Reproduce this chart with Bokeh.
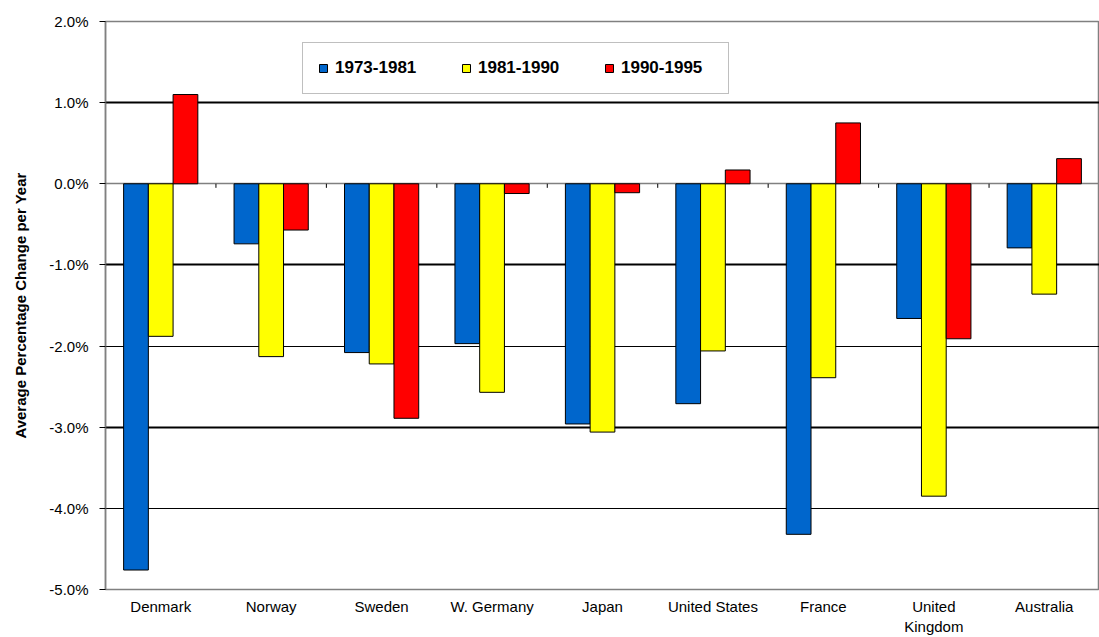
from bokeh.plotting import figure
from bokeh.models import (ColumnDataSource, FactorRange, Range1d, FixedTicker,
                          PrintfTickFormatter, Grid, Legend, LegendItem)
from bokeh.transform import dodge
from bokeh.embed import file_html
from bokeh.resources import INLINE

# Average annual percentage change by country and period
countries = ["Denmark", "Norway", "Sweden", "W. Germany", "Japan",
             "United States", "France", "United\nKingdom", "Australia"]
periods = ["1973-1981", "1981-1990", "1990-1995"]
chg_1973_1981 = [-4.76, -0.74, -2.08, -1.97, -2.96, -2.71, -4.32, -1.66, -0.79]
chg_1981_1990 = [-1.88, -2.13, -2.22, -2.57, -3.06, -2.06, -2.39, -3.85, -1.36]
chg_1990_1995 = [1.10, -0.57, -2.89, -0.12, -0.11, 0.17, 0.75, -1.91, 0.31]
y_ticks = [-5, -4, -3, -2, -1, 0, 1, 2]

FONT = "Liberation Sans"
colors = ["#0066CC", "#FFFF00", "#FF0000"]

source = ColumnDataSource(dict(country=countries, p1=chg_1973_1981,
                               p2=chg_1981_1990, p3=chg_1990_1995))

p = figure(width=1099, height=637,
           x_range=FactorRange(factors=countries, range_padding=0),
           y_range=Range1d(-5, 2),
           output_backend="svg", toolbar_location=None,
           min_border_left=105, min_border_right=0,
           min_border_top=21, min_border_bottom=48)
p.background_fill_color = "white"
p.border_fill_color = "white"
p.outline_line_color = "#808080"
p.outline_line_width = 1.5

# gridlines: heavy at odd percents, light at even, grey zero line
p.xgrid.grid_line_color = None
p.ygrid.grid_line_color = None
p.add_layout(Grid(dimension=1, ticker=FixedTicker(ticks=[1, -1, -3]),
                  grid_line_color="black", grid_line_width=2))
p.add_layout(Grid(dimension=1, ticker=FixedTicker(ticks=[2, -2, -4]),
                  grid_line_color="black", grid_line_width=1))
p.add_layout(Grid(dimension=1, ticker=FixedTicker(ticks=[0]),
                  grid_line_color="#808080", grid_line_width=1.5))

bar_w = 0.224
offsets = [-bar_w, 0.0, bar_w]
renderers = []
for col, off, c in zip(["p1", "p2", "p3"], offsets, colors):
    r = p.vbar(x=dodge("country", off, range=p.x_range), top=col, bottom=0,
               width=bar_w, source=source, fill_color=c,
               line_color="black", line_width=1)
    renderers.append(r)

# small tick marks on the zero line between categories
bounds = list(range(1, len(countries)))
p.segment(x0=bounds, y0=[0] * len(bounds), x1=bounds, y1=[-0.05] * len(bounds),
          line_color="black", line_width=1)

# y axis
yax = p.yaxis[0]
yax.ticker = FixedTicker(ticks=y_ticks)
yax.formatter = PrintfTickFormatter(format="%.1f%%")
yax.minor_tick_line_color = None
yax.major_tick_in = 0
yax.major_tick_out = 6
yax.major_tick_line_color = "black"
yax.axis_line_color = "#808080"
yax.axis_line_width = 1.5
yax.major_label_standoff = 11
yax.major_label_text_font = FONT
yax.major_label_text_font_size = "15px"
yax.major_label_text_color = "black"
yax.axis_label = "Average Percentage Change per Year"
yax.axis_label_text_font = FONT
yax.axis_label_text_font_size = "15px"
yax.axis_label_text_font_style = "bold"
yax.axis_label_text_color = "black"
yax.axis_label_standoff = 17

# x axis
xax = p.xaxis[0]
xax.axis_line_color = None
xax.major_tick_line_color = None
xax.major_tick_in = 0
xax.major_tick_out = 0
xax.minor_tick_line_color = None
xax.major_label_standoff = 8
xax.major_label_text_font = FONT
xax.major_label_text_font_size = "15px"
xax.major_label_text_color = "black"

legend = Legend(items=[LegendItem(label=lab, renderers=[r])
                       for lab, r in zip(periods, renderers)],
                orientation="horizontal", location=(197, 495),
                label_text_font=FONT, label_text_font_style="bold",
                label_text_font_size="17px", label_text_color="black",
                glyph_width=10, glyph_height=10, label_standoff=7,
                label_width=92, spacing=34, padding=15,
                border_line_color="#808080", border_line_width=1.5,
                background_fill_color="white", background_fill_alpha=1)
p.add_layout(legend)

open("out.html", "w").write(file_html(p, INLINE))
